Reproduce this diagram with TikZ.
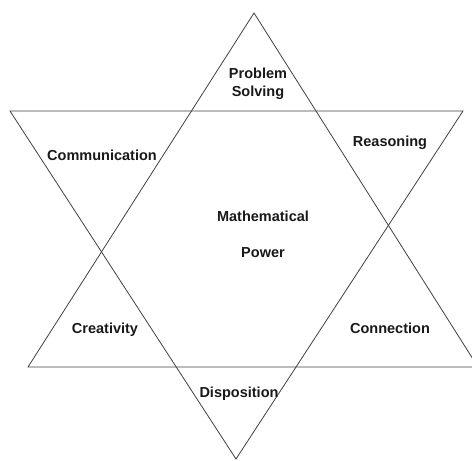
\documentclass[tikz,border=0pt]{standalone}
\usepackage{fontspec}
\setmainfont{Liberation Sans}
\begin{document}
\begin{tikzpicture}[x=1pt, y=-1pt, line width=0.8pt,
    lbl/.style={font=\bfseries\fontsize{14.5}{18}\selectfont, align=center, text=black!90}]
    \useasboundingbox (0,0) rectangle (472,461);
    % Vertices of the upward triangle
    \coordinate (UA) at (254,13);
    \coordinate (UL) at (28,367);
    \coordinate (UR) at (478,367);
    % Vertices of the downward triangle
    \coordinate (DL) at (10,111);
    \coordinate (DR) at (463,111);
    \coordinate (DB) at (236,459);

    % The two triangles
    \draw[black!75] (UA) -- (UL) -- (UR) -- cycle;
    \draw[black!75] (DL) -- (DR) -- (DB) -- cycle;

    % Labels in the points and the centre
    \node[lbl] (solving) at (258,84) {Problem\\Solving};
    \node[lbl] (communication) at (102,155) {Communication};
    \node[lbl] (reasoning) at (390,143) {Reasoning};
    \node[lbl] (math) at (263,216) {Mathematical};
    \node[lbl] (power) at (263,253) {Power};
    \node[lbl] (creativity) at (105,330) {Creativity};
    \node[lbl] (connection) at (390,328) {Connection};
    \node[lbl] (disposition) at (239,394) {Disposition};
\end{tikzpicture}
\end{document}
